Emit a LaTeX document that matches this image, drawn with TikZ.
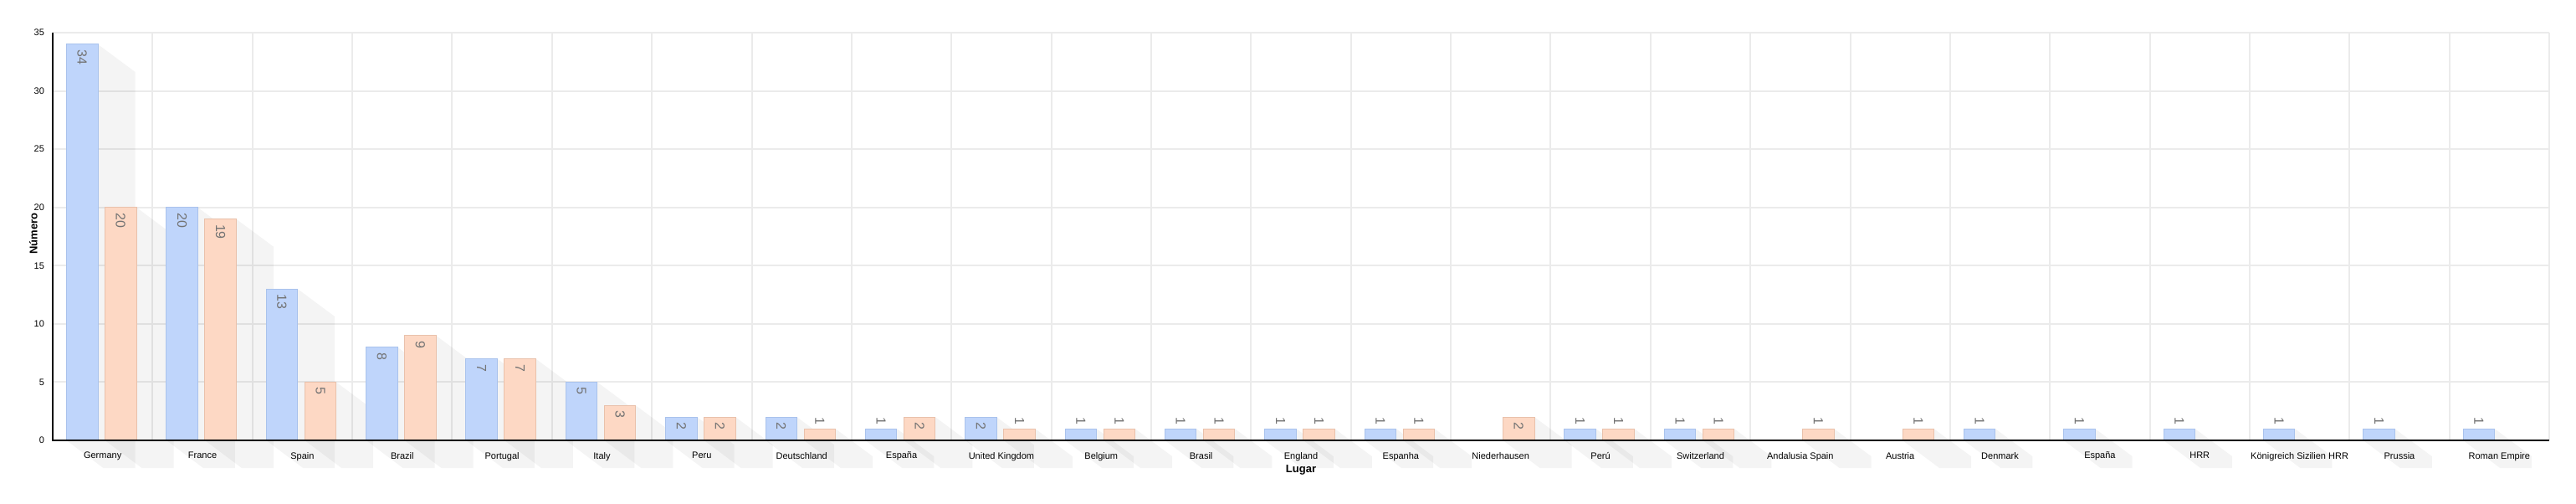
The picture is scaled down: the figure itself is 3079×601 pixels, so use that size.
\documentclass[tikz,border=0pt]{standalone}
\usepackage{fontspec}
\setmainfont{Liberation Sans}
\definecolor{barblue}{HTML}{BFD5FB}
\definecolor{barblueline}{HTML}{A9C2EC}
\definecolor{barorange}{HTML}{FDD8C4}
\definecolor{barorangeline}{HTML}{E9C1AB}
\definecolor{gridgray}{HTML}{EBEBEB}
\tikzset{
  gridline/.style={gridgray, line width=1pt},
  bluebar/.style={fill=barblue, draw=barblueline, line width=0.5pt},
  orangebar/.style={fill=barorange, draw=barorangeline, line width=0.5pt},
  barshadow/.style={fill=black, opacity=0.045, draw=none},
  vallabel/.style={text=black!55, font=\fontsize{8}{8}\selectfont, rotate=-90, inner sep=1pt},
  ticklabel/.style={font=\fontsize{5.5}{6}\selectfont, anchor=east},
  catlabel/.style={font=\fontsize{5.5}{6}\selectfont, anchor=north}
}
\begin{document}
\begin{tikzpicture}[x=0.5pt, y=0.5pt]
    \useasboundingbox (0,0) rectangle (3079,601);
    % Grid
    \foreach \v in {5,10,...,35}
    {
        \draw[gridline] (63,75+\v*13.914) -- (3047,75+\v*13.914);
    }
    \foreach \c in {1,...,25}
    {
        \draw[gridline] (63+\c*119.36,75) -- (63+\c*119.36,562);
    }
    % Tick labels
    \foreach \v in {0,5,...,35}
    {
        \node[ticklabel] (t\v) at (60,75+\v*13.914) {\v};
    }
    % Bars
    \foreach \name/\a/\b [count=\i from 0] in {Germany/34/20, France/20/19, Spain/13/5, Brazil/8/9, Portugal/7/7, Italy/5/3, Peru/2/2, Deutschland/2/1, España/1/2, United Kingdom/2/1, Belgium/1/1, Brasil/1/1, England/1/1, Espanha/1/1, Niederhausen/0/2, Perú/1/1, Switzerland/1/1, Andalusia Spain/0/1, Austria/0/1, Denmark/1/0, España/1/0, HRR/1/0, Königreich Sizilien HRR/1/0, Prussia/1/0, Roman Empire/1/0}
    {
        \pgfmathsetmacro{\xa}{63+\i*119.36+16.5}
        \pgfmathsetmacro{\xb}{\xa+46}
        \pgfmathsetmacro{\ta}{75+\a*13.914}
        \pgfmathsetmacro{\tb}{75+\b*13.914}
        \ifnum\a>0
            \fill[barshadow] (\xa+37.5,\ta) -- (\xa+82,\ta-33) -- (\xa+82,42) -- (\xa+44,42) -- (\xa,75) -- cycle;
            \draw[bluebar] (\xa,75) rectangle (\xa+37.5,\ta);
            \ifnum\a>1
                \node[vallabel, anchor=west] (a\i) at (\xa+18.75,\ta-4) {\a};
            \else
                \node[vallabel, anchor=east] (a\i) at (\xa+18.75,\ta+2) {\a};
            \fi
        \fi
        \ifnum\b>0
            \fill[barshadow] (\xb+37.5,\tb) -- (\xb+82,\tb-33) -- (\xb+82,42) -- (\xb+44,42) -- (\xb,75) -- cycle;
            \draw[orangebar] (\xb,75) rectangle (\xb+37.5,\tb);
            \ifnum\b>1
                \node[vallabel, anchor=west] (b\i) at (\xb+18.75,\tb-4) {\b};
            \else
                \node[vallabel, anchor=east] (b\i) at (\xb+18.75,\tb+2) {\b};
            \fi
        \fi
        \node[catlabel] (c\i) at (63+\i*119.36+59.68,68) {\name};
    }
    % Axes
    \draw[line width=1.2pt] (63,562) -- (63,75) -- (3047,75);
    \node[font=\bfseries\fontsize{6.5}{7}\selectfont] (xtitle) at (1555,40) {Lugar};
    \node[font=\bfseries\fontsize{6.5}{7}\selectfont, rotate=90] (ytitle) at (40,322) {Número};
\end{tikzpicture}
\end{document}
